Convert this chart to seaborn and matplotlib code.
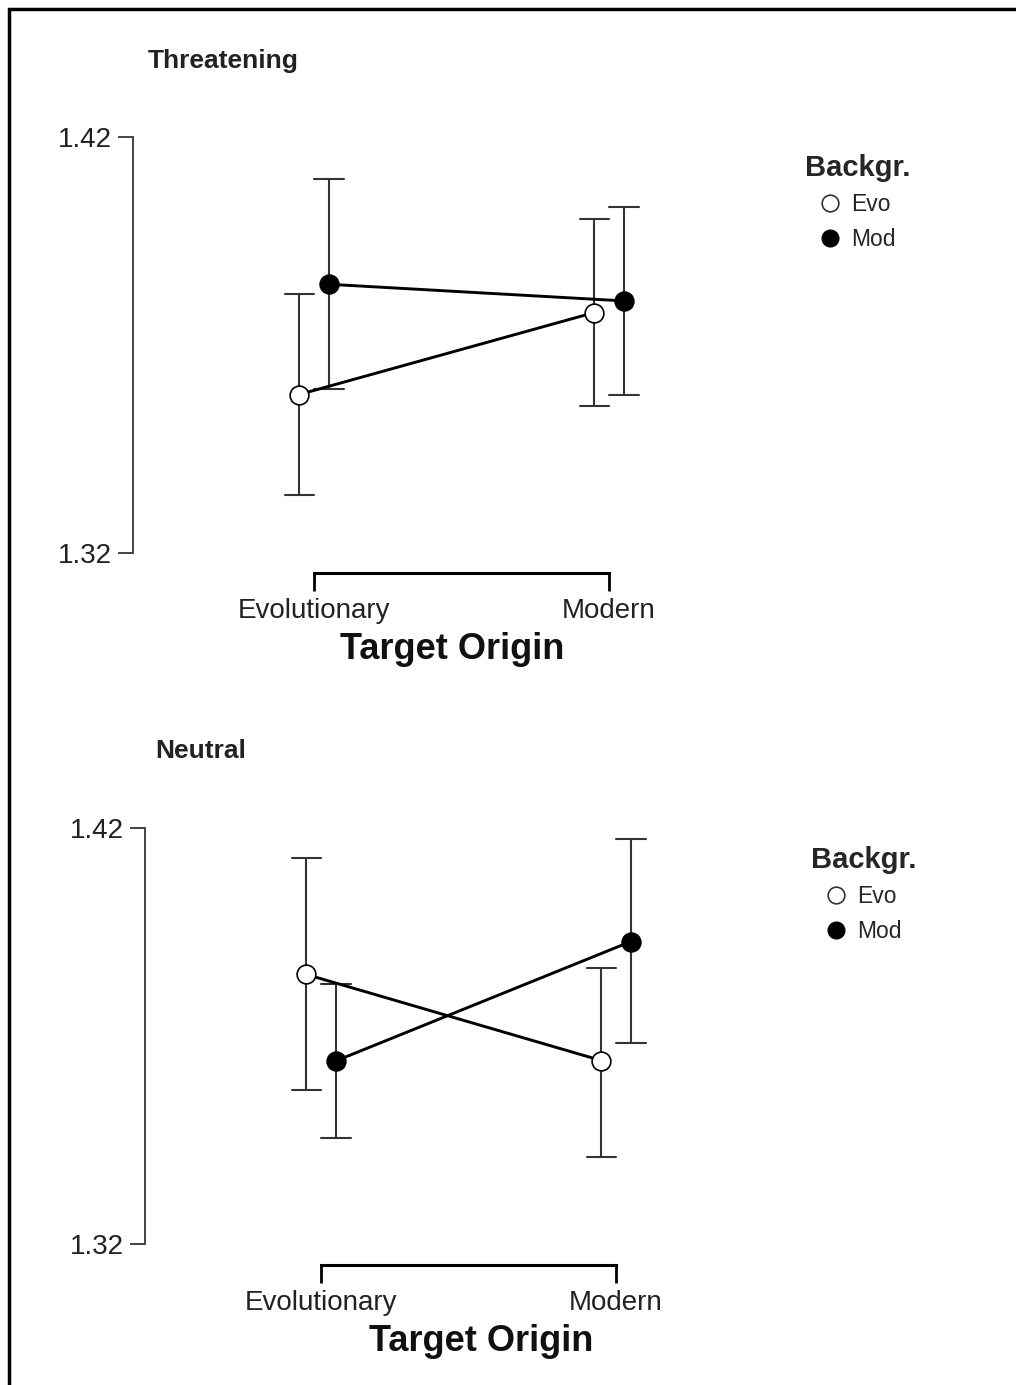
import numpy as np
import pandas as pd
import seaborn as sns
import matplotlib.pyplot as plt
from matplotlib.lines import Line2D
from matplotlib.patches import Rectangle

# Datos
origins = ["Evolutionary", "Modern"]
backgrounds = ["Evo", "Mod"]

# Threatening: media y extremos de la barra de error
thr_mean_evo = [1.3581, 1.3778]
thr_low_evo = [1.3339, 1.3553]
thr_high_evo = [1.3823, 1.4002]
thr_mean_mod = [1.3846, 1.3806]
thr_low_mod = [1.3594, 1.3580]
thr_high_mod = [1.4098, 1.4032]

# Neutral
neu_mean_evo = [1.3848, 1.3641]
neu_low_evo = [1.3569, 1.3410]
neu_high_evo = [1.4127, 1.3864]
neu_mean_mod = [1.3640, 1.3927]
neu_low_mod = [1.3454, 1.3684]
neu_high_mod = [1.3824, 1.4174]

y_ticks = [1.32, 1.42]
y_ticklabels = ["1.32", "1.42"]

W, H = 1016, 1385


def long_table(mean_evo, low_evo, high_evo, mean_mod, low_mod, high_mod):
    # tres filas por grupo: la mediana es la media y el rango es la barra
    rows = []
    series = {"Evo": (low_evo, mean_evo, high_evo), "Mod": (low_mod, mean_mod, high_mod)}
    for bg, parts in series.items():
        for values in parts:
            for origin, v in zip(origins, values):
                rows.append({"Target Origin": origin, "Backgr.": bg, "value": v})
    return pd.DataFrame(rows)


def make_axes(fig, spine_x, cat0_x, cat1_x, y142, y132, xaxis_y, right_x):
    ppx = cat1_x - cat0_x
    ppy = (y132 - y142) / 0.1
    top_px = y142 - 0.005 * ppy
    ax = fig.add_axes([spine_x / W, 1 - xaxis_y / H, (right_x - spine_x) / W, (xaxis_y - top_px) / H])
    xlim = ((spine_x - cat0_x) / ppx, (right_x - cat0_x) / ppx)
    ylim = (1.32 - (xaxis_y - y132) / ppy, 1.425)
    return ax, xlim, ylim


def draw_panel(ax, xlim, ylim, df, legend_xy):
    sns.pointplot(
        data=df, x="Target Origin", y="value", hue="Backgr.",
        order=origins, hue_order=backgrounds,
        estimator="median", errorbar=("pi", 100),
        palette=["black", "black"], dodge=0.1, capsize=0.1,
        markers="o", linestyles="-",
        markersize=13.5, linewidth=2.1, markeredgewidth=1.2, markeredgecolor="black",
        err_kws={"color": "#333333", "linewidth": 1.5},
        legend=False, ax=ax,
    )
    # Evo con marcador hueco
    data_lines = [l for l in ax.lines if l.get_marker() not in (None, "None", "", " ")]
    for l in ax.lines:
        l.set_zorder(2)
    for l in data_lines:
        l.set_zorder(3)
    data_lines[0].set_markerfacecolor("white")

    ax.set_xlim(*xlim)
    ax.set_ylim(*ylim)
    ax.set_yticks(y_ticks)
    ax.set_yticklabels(y_ticklabels)
    ax.set_ylabel("")
    ax.set_xlabel("Target Origin", fontsize=26, fontweight="bold", labelpad=6, color="#111111")
    sns.despine(ax=ax)
    ax.spines["left"].set_bounds(1.32, 1.42)
    ax.spines["bottom"].set_bounds(0, 1)
    ax.spines["left"].set_color("#444444")
    ax.spines["left"].set_linewidth(1.4)
    ax.spines["bottom"].set_color("black")
    ax.spines["bottom"].set_linewidth(2.2)
    ax.tick_params(axis="y", left=True, length=11, width=1.4, color="#444444", pad=4, labelsize=20, labelcolor="#222222")
    ax.tick_params(axis="x", bottom=True, length=13, width=2.0, color="black", pad=5, labelsize=20, labelcolor="#222222")
    ax.patch.set_alpha(0)

    handles = [
        Line2D([], [], marker="o", linestyle="", markersize=12, markerfacecolor="white",
               markeredgecolor="#333333", markeredgewidth=1.2),
        Line2D([], [], marker="o", linestyle="", markersize=12, markerfacecolor="black",
               markeredgecolor="black"),
    ]
    ax.legend(handles, backgrounds, title="Backgr.", loc="upper center",
              bbox_to_anchor=(legend_xy[0] / W, 1 - legend_xy[1] / H), bbox_transform=ax.figure.transFigure,
              frameon=False, fontsize=16.5, title_fontproperties={"weight": "bold", "size": 21},
              handlelength=0.8, handletextpad=0.5, labelspacing=0.5, borderaxespad=0, borderpad=0)


sns.set_style("ticks")
plt.rcParams["font.family"] = ["Liberation Sans", "DejaVu Sans"]

fig = plt.figure(figsize=(W / 100, H / 100), dpi=100)

df_thr = long_table(thr_mean_evo, thr_low_evo, thr_high_evo, thr_mean_mod, thr_low_mod, thr_high_mod)
df_neu = long_table(neu_mean_evo, neu_low_evo, neu_high_evo, neu_mean_mod, neu_low_mod, neu_high_mod)

ax1, xl1, yl1 = make_axes(fig, 133, 314, 609, 137, 553, 573, 771)
draw_panel(ax1, xl1, yl1, df_thr, (858, 154))

ax2, xl2, yl2 = make_axes(fig, 145, 321, 616, 828, 1244, 1265, 817)
draw_panel(ax2, xl2, yl2, df_neu, (864, 846))

fig.text(148 / W, 1 - 61 / H, "Threatening", fontsize=19, fontweight="bold", ha="left", va="center", color="#222222")
fig.text(155 / W, 1 - 751 / H, "Neutral", fontsize=19, fontweight="bold", ha="left", va="center", color="#222222")

# marco
fig.add_artist(Rectangle((9 / W, -0.05), 1.2, 1 - 9 / H + 0.05, transform=fig.transFigure,
                         fill=False, edgecolor="black", linewidth=2.5))

plt.savefig("out.png", dpi=100)
